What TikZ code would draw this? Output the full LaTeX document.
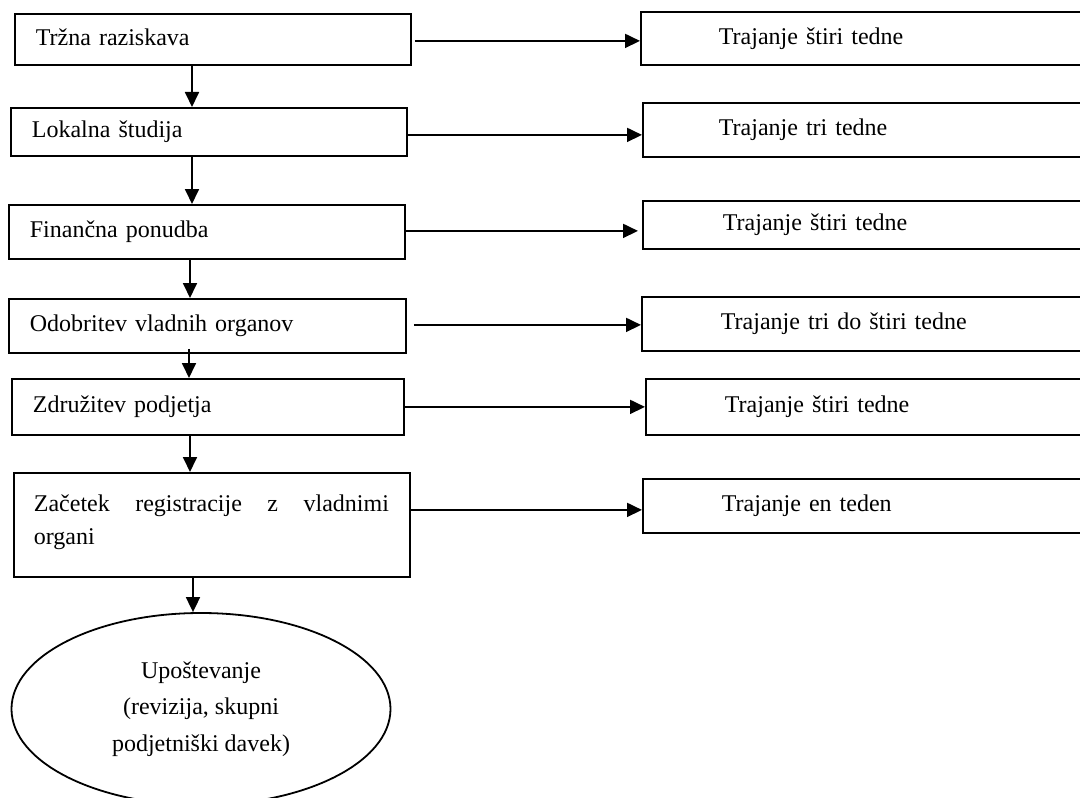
\documentclass[tikz,border=0pt]{standalone}
\usepackage{fontspec}
\setmainfont{Liberation Serif}
\usetikzlibrary{arrows.meta,shapes.geometric}
\begin{document}
\begin{tikzpicture}[x=1bp,y=-1bp,line width=1.8bp,
  every node/.style={font=\fontsize{24bp}{33bp}\selectfont},
  lbox/.style={draw,anchor=north west,inner ysep=0pt,align=left,
    text height=16.8bp,text depth=5.3bp},
  arr/.style={-{Triangle[length=15bp,width=14bp]}}]
\path[use as bounding box] (0,0) rectangle (1080,798);
\clip (0,0) rectangle (1080,798);
% left column
\node[lbox,inner xsep=21bp,text width=354bp,minimum height=51bp] (L1) at (14,13) {Tržna raziskava};
\node[lbox,inner xsep=21bp,text width=354bp,minimum height=48bp] (L2) at (10,107) {Lokalna študija};
\node[lbox,inner xsep=21bp,text width=354bp,minimum height=54bp] (L3) at (8,204) {Finančna ponudba};
\node[lbox,inner xsep=21bp,text width=355bp,minimum height=54bp] (L4) at (8,298) {Odobritev vladnih organov};
\node[lbox,inner xsep=21bp,text width=350bp,minimum height=56bp] (L5) at (11,378) {Združitev podjetja};
\node[lbox,inner xsep=20bp,text width=356bp,minimum height=104bp,text depth=44.3bp] (L6) at (13,472)
  {\hbox to 355bp{Začetek\hfill registracije\hfill z\hfill vladnimi}\\organi};
\node[draw,ellipse,minimum width=379bp,minimum height=192bp,inner sep=0pt,align=center,
  font=\fontsize{24bp}{36.5bp}\selectfont] (E) at (201,709)
  {Upoštevanje\\(revizija, skupni\\podjetniški davek)};
% right column
\node[lbox,inner xsep=78bp,text width=304bp,minimum height=53bp] (R1) at (640,11) {Trajanje štiri tedne};
\node[lbox,inner xsep=76bp,text width=308bp,minimum height=54bp] (R2) at (642,102) {Trajanje tri tedne};
\node[lbox,inner xsep=80bp,text width=300bp,minimum height=48bp] (R3) at (642,200) {Trajanje štiri tedne};
\node[lbox,inner xsep=79bp,text width=302bp,minimum height=54bp] (R4) at (641,296) {Trajanje tri do štiri tedne};
\node[lbox,inner xsep=79bp,text width=302bp,minimum height=56bp] (R5) at (645,378) {Trajanje štiri tedne};
\node[lbox,inner xsep=79bp,text width=302bp,minimum height=54bp] (R6) at (642,478) {Trajanje en teden};
% vertical connectors
\coordinate (c1) at (192,0);
\coordinate (c2) at (192,0);
\coordinate (c3) at (190,0);
\coordinate (c4) at (189,0);
\coordinate (c5) at (190,0);
\coordinate (c6) at (193,0);
\draw[arr] (L1.south -| c1) -- (L2.north -| c1);
\draw[arr] (L2.south -| c2) -- (L3.north -| c2);
\draw[arr] (L3.south -| c3) -- (L4.north -| c3);
\draw[arr,shorten <=-5bp] (L4.south -| c4) -- (L5.north -| c4);
\draw[arr] (L5.south -| c5) -- (L6.north -| c5);
\draw[arr] (L6.south -| c6) -- (E.north -| c6);
% horizontal connectors
\draw[arr,shorten <=3bp] ([yshift=-1.5bp]L1.east) -- ([yshift=-1.5bp]L1.east -| R1.west);
\draw[arr] ([yshift=-3bp]L2.east) -- ([yshift=-3bp]L2.east -| R2.west);
\draw[arr,shorten >=4bp] ([yshift=1bp]L3.east) -- ([yshift=1bp]L3.east -| R3.west);
\draw[arr,shorten <=7bp] ([yshift=1bp]L4.east) -- ([yshift=1bp]L4.east -| R4.west);
\draw[arr] (L5.east) -- (L5.east -| R5.west);
\draw[arr] ([yshift=15bp]L6.east) -- ([yshift=15bp]L6.east -| R6.west);
\end{tikzpicture}
\end{document}
